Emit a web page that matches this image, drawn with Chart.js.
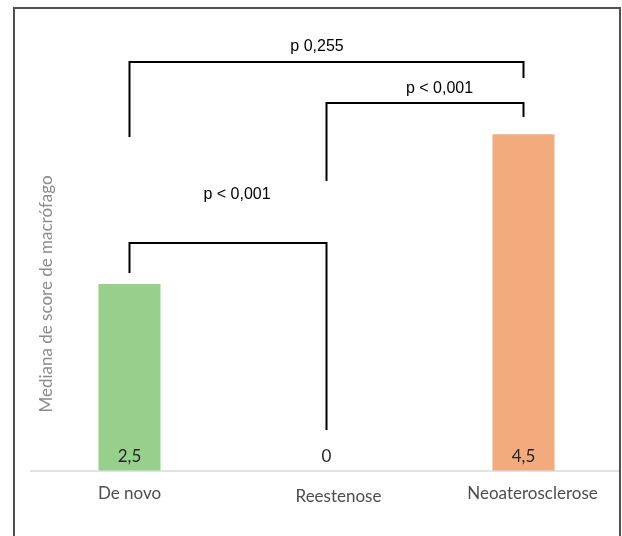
<!DOCTYPE html>
<html>
<head>
<meta charset="utf-8">
<script src="https://cdn.jsdelivr.net/npm/chart.js@4/dist/chart.umd.min.js"></script>
<style>
  html, body { margin: 0; padding: 0; background: #fff; }
  canvas { display: block; }
</style>
</head>
<body>
<canvas id="macroChart" width="622" height="536"></canvas>
<script>
// Data
const categories = ['De novo', 'Reestenose', 'Neoaterosclerose'];
const medianScores = [2.5, 0, 4.5];
const valueLabels = ['2,5', '0', '4,5'];
const barColors = ['#97d08c', '#f3ab7d', '#f3ab7d'];

// Comparison brackets: pair of categories and p value text
const bracketPairs = [[0, 1], [1, 2], [0, 2]];
const bracketLabels = ['p < 0,001', 'p < 0,001', 'p 0,255'];

const yTitle = 'Mediana de score de macrófago';

// Draws the frame, the base line, value labels, category labels and brackets
const figurePlugin = {
  id: 'figure',
  afterDatasetsDraw(chart, args, opts) {
    const ctx = chart.ctx;
    const x = chart.scales.x;
    const y = chart.scales.y;
    const area = chart.chartArea;

    ctx.save();

    // base line
    ctx.strokeStyle = '#d9d9d9';
    ctx.lineWidth = 1.5;
    ctx.beginPath();
    ctx.moveTo(30, y.getPixelForValue(0));
    ctx.lineTo(620, y.getPixelForValue(0));
    ctx.stroke();

    // value labels inside the bars
    ctx.font = '17px Lato, "Open Sans", sans-serif';
    ctx.fillStyle = '#262626';
    ctx.textAlign = 'center';
    ctx.textBaseline = 'middle';
    valueLabels.forEach((t, i) => {
      ctx.fillText(t, x.getPixelForValue(i), y.getPixelForValue(0) - 14);
    });

    // category labels
    ctx.fillStyle = '#4d4d4d';
    categories.forEach((c, i) => {
      ctx.fillText(c, x.getPixelForValue(i) + opts.labelShift[i], area.bottom + opts.labelDrop[i]);
    });

    // y axis title
    ctx.save();
    ctx.translate(47, 294);
    ctx.rotate(-Math.PI / 2);
    ctx.fillStyle = '#8c8c8c';
    ctx.font = '17px Lato, "Open Sans", sans-serif';
    ctx.fillText(yTitle, 0, 0);
    ctx.restore();

    // brackets
    ctx.strokeStyle = '#000';
    ctx.lineWidth = 2;
    ctx.fillStyle = '#000';
    ctx.font = '16px "Liberation Sans", Arial, sans-serif';
    bracketPairs.forEach((pair, i) => {
      const lv = opts.levels[i];
      const x0 = x.getPixelForValue(pair[0]);
      const x1 = x.getPixelForValue(pair[1]);
      ctx.beginPath();
      ctx.moveTo(x0, y.getPixelForValue(lv.leftEnd));
      ctx.lineTo(x0, y.getPixelForValue(lv.top));
      ctx.lineTo(x1, y.getPixelForValue(lv.top));
      ctx.lineTo(x1, y.getPixelForValue(lv.rightEnd));
      ctx.stroke();
      ctx.fillText(bracketLabels[i], x.getPixelForValue(lv.labelAt), y.getPixelForValue(lv.labelY));
    });

    // outer frame
    ctx.strokeStyle = '#505050';
    ctx.lineWidth = 2;
    ctx.strokeRect(14, 8, 606, 560);

    ctx.restore();
  }
};

const ctx = document.getElementById('macroChart').getContext('2d');
new Chart(ctx, {
  type: 'bar',
  data: {
    labels: categories,
    datasets: [{
      data: medianScores,
      backgroundColor: barColors,
      borderWidth: 0,
      barPercentage: 0.315,
      categoryPercentage: 1
    }]
  },
  options: {
    responsive: false,
    animation: false,
    devicePixelRatio: 1,
    layout: { padding: { left: 31, right: 0, top: 22, bottom: 65 } },
    scales: {
      x: { display: false },
      y: { display: false, min: 0, max: 6 }
    },
    plugins: {
      legend: { display: false },
      tooltip: { enabled: false },
      figure: {
        labelShift: [0, 12, 9],
        labelDrop: [23, 26, 23],
        levels: [
          { top: 3.047, leftEnd: 2.646, rightEnd: 0.548, labelAt: 0.546, labelY: 3.69 },
          { top: 4.918, leftEnd: 3.875, rightEnd: 4.731, labelAt: 1.574, labelY: 5.11 },
          { top: 5.466, leftEnd: 4.463, rightEnd: 5.252, labelAt: 0.952, labelY: 5.67 }
        ]
      }
    }
  },
  plugins: [figurePlugin]
});
</script>
</body>
</html>
